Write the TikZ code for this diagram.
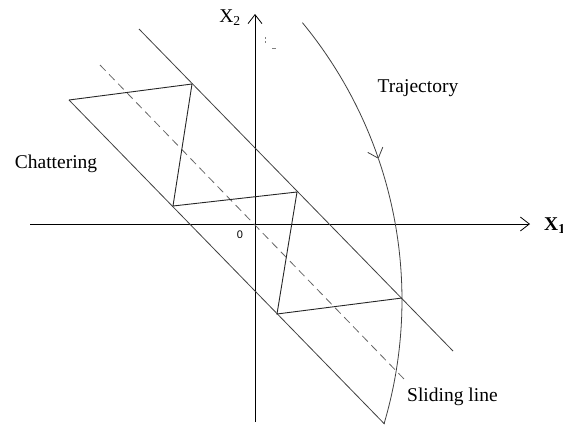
\documentclass[tikz,border=0pt]{standalone}
\usepackage{fontspec}
\setmainfont{Liberation Serif}
\newfontfamily\lsans{Liberation Sans}
\usetikzlibrary{arrows.meta}
\begin{document}
\begin{tikzpicture}[x=1pt,y=-1pt,
  ln/.style={draw=black!75, line width=0.8pt},
  zz/.style={draw=black!85, line width=0.9pt},
  dsh/.style={draw=black!60, line width=0.8pt, dash pattern=on 8pt off 5pt},
  axis/.style={draw=black, line width=0.8pt, -{Straight Barb[length=9pt,width=14pt]}},
  lbl/.style={font=\fontsize{19.5}{23}\selectfont, inner sep=0pt}]
\useasboundingbox (0,0) rectangle (563,426);
% axes
\coordinate (xl) at (30,224);
\coordinate (xr) at (530,224);
\coordinate (yb) at (255,422);
\coordinate (yt) at (255,14);
\draw[axis] (xl) -- (xr);
\draw[axis] (yb) -- (yt);
\node[lbl, anchor=west] (x1) at (544,226) {\textbf{X}\textsubscript{\textbf{1}}};
\node[lbl] (x2) at (230,18) {X\textsubscript{2}};
\node[inner sep=0pt, font=\lsans\fontsize{11}{13}\selectfont] (o) at (240,235) {0};
% small marks
\draw[black!50, line width=0.6pt] (265.5,37) -- (265.5,39) (265.5,41) -- (265.5,43) (272,48) -- (276,48);
% boundary lines
\coordinate (U1) at (139,29);
\coordinate (U2) at (453,351);
\coordinate (A) at (69,100);
\coordinate (L2) at (384.5,424);
\coordinate (S1) at (100,65);
\coordinate (S2) at (405,380);
\draw[ln] (U1) -- (U2);
\draw[ln] (A) -- (L2);
\draw[dsh] (S1) -- (S2);
% chattering zigzag
\coordinate (B) at (192,84);
\coordinate (C) at (173,206);
\coordinate (D) at (297,192);
\coordinate (E) at (277,314);
\coordinate (F) at (402,298);
\draw[zz] (A) -- (B) -- (C) -- (D) -- (E) -- (F);
% trajectory
\draw[ln, -{Straight Barb[length=9pt,width=16pt]}] plot[domain=-39.5:-18.9, samples=40] ({-34+436*cos(\x)},{300+436*sin(\x)});
\draw[ln] plot[domain=-18.9:16.5, samples=60] ({-34+436*cos(\x)},{300+436*sin(\x)});
% labels
\node[lbl] (traj) at (418,88) {Trajectory};
\node[lbl] (chat) at (56,164) {Chattering};
\node[lbl, anchor=west] (slide) at (407,397) {Sliding line};
\end{tikzpicture}
\end{document}
